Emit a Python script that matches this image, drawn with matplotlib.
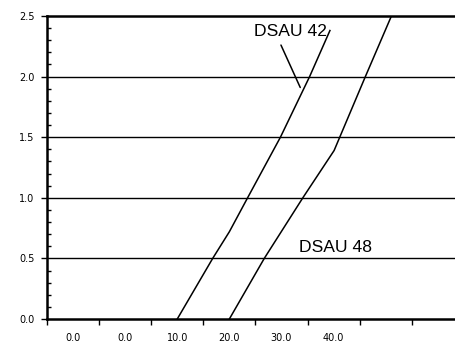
import matplotlib.pyplot as plt
import numpy as np

# curve data (x = position along the labelled scale, y = value)
dsau42_x = [10.0, 16.8, 20.0, 23.5, 29.8, 35.4, 39.3]
dsau42_y = [0.0, 0.5, 0.72, 1.0, 1.5, 2.0, 2.38]
dsau48_x = [20.0, 26.7, 34.1, 40.1, 46.1, 51.1]
dsau48_y = [0.0, 0.5, 1.0, 1.39, 2.0, 2.5]

xtick_pos = [-15, -5, 5, 15, 25, 35, 45, 55]
xlabel_pos = [-10, 0, 10, 20, 30, 40]
xlabel_txt = ["0.0", "0.0", "10.0", "20.0", "30.0", "40.0"]
yticks = [0.0, 0.5, 1.0, 1.5, 2.0, 2.5]

fig = plt.figure(figsize=(4.55, 3.42), dpi=100)
ax = fig.add_axes([0.1033, 0.0673, 0.8967, 0.886])

ax.plot(dsau42_x, dsau42_y, color="black", lw=1.1)
ax.plot(dsau48_x, dsau48_y, color="black", lw=1.1)

ax.set_xlim(-15, 63.3)
ax.set_ylim(0, 2.5)

# horizontal grid lines
for y in yticks[1:-1]:
    ax.axhline(y, color="black", lw=1.0, zorder=1)

# labels
ax.text(24.8, 2.37, "DSAU 42", fontsize=12.6, family="Liberation Sans", va="center", ha="left")
ax.annotate("", xy=(33.6, 1.91), xytext=(29.9, 2.26),
            arrowprops=dict(arrowstyle="-", color="black", lw=1.1, shrinkA=0, shrinkB=0))
ax.text(33.3, 0.59, "DSAU 48", fontsize=12.6, family="Liberation Sans", va="center", ha="left")

# axes styling
for s in ["left", "bottom", "top"]:
    ax.spines[s].set_linewidth(1.8)
ax.spines["right"].set_visible(False)

ax.set_yticks(yticks)
ax.set_yticklabels([f"{v:.1f}" for v in yticks], fontsize=7, family="DejaVu Sans")
ax.set_yticks(np.arange(0, 2.5001, 0.1), minor=True)
ax.tick_params(axis="y", which="major", direction="out", length=4, width=1.0, pad=5)
ax.tick_params(axis="y", which="minor", direction="in", length=3, width=1.0)

ax.set_xticks(xtick_pos)
ax.set_xticklabels([])
ax.set_xticks(xlabel_pos, minor=True)
ax.set_xticklabels(xlabel_txt, minor=True, fontsize=7, family="DejaVu Sans")
ax.tick_params(axis="x", which="major", direction="out", length=4, width=1.0)
ax.tick_params(axis="x", which="minor", length=0, pad=10)

fig.savefig("out.png", dpi=100)
